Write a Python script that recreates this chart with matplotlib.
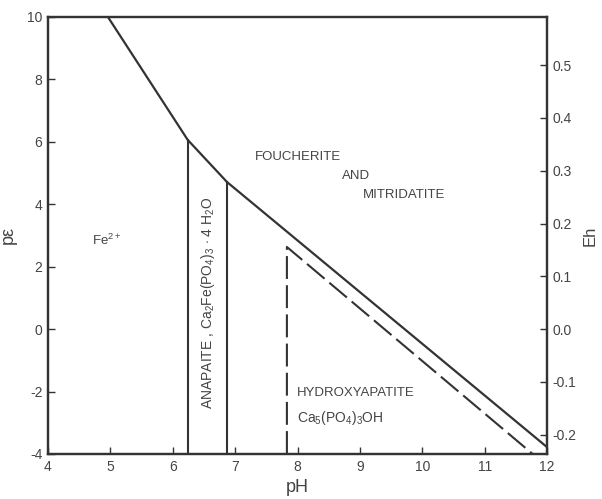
import matplotlib
matplotlib.use("Agg")
import matplotlib.pyplot as plt
from matplotlib.ticker import FixedLocator, FuncFormatter

plt.rcParams['font.family'] = ['Liberation Sans', 'DejaVu Sans']
plt.rcParams['mathtext.fontset'] = 'custom'
plt.rcParams['mathtext.rm'] = 'Liberation Sans'
plt.rcParams['mathtext.it'] = 'Liberation Sans'
plt.rcParams['axes.unicode_minus'] = False

# upper boundary of the Fe2+ / anapaite / foucherite fields
upper_ph = [4.96, 6.24, 6.87, 12.0]
upper_pe = [10.0, 6.06, 4.71, -3.78]

# anapaite field limits
anapaite_ph = [6.24, 6.87]

# hydroxyapatite field (dashed)
hap_ph = [7.83, 7.83, 11.77]
hap_pe = [-4.0, 2.63, -4.0]

pe_ticks = [-4, -2, 0, 2, 4, 6, 8, 10]
ph_ticks = [4, 5, 6, 7, 8, 9, 10, 11, 12]
eh_ticks = [-0.2, -0.1, 0.0, 0.1, 0.2, 0.3, 0.4, 0.5]
EH_PER_PE = 0.05916

ink = '#333333'
txt = '#444444'

fig = plt.figure(figsize=(6.02, 4.99), dpi=100)
ax = fig.add_axes([0.0797, 0.0902, 0.829, 0.876])

ax.plot(upper_ph, upper_pe, color=ink, lw=1.6, solid_capstyle='butt')
for x in anapaite_ph:
    top = upper_pe[upper_ph.index(x)]
    ax.plot([x, x], [-4, top], color=ink, lw=1.5)
ax.plot(hap_ph, hap_pe, color=ink, lw=1.5, dashes=(11, 3))

ax.set_xlim(4, 12)
ax.set_ylim(-4, 10)
ax.set_xticks(ph_ticks)
ax.set_yticks(pe_ticks)
ax.tick_params(direction='in', length=5, width=1, colors=ink,
               labelsize=10, labelcolor=txt, pad=4)
for s in ax.spines.values():
    s.set_linewidth(1.6)
    s.set_color(ink)
ax.set_xlabel('pH', fontsize=13, color=txt, labelpad=4)
ax.set_ylabel('p\u03b5', fontsize=13, color=txt)
ax.yaxis.set_label_coords(-0.062, 0.5)

ax2 = ax.twinx()
ax2.set_ylim(-4 * EH_PER_PE, 10 * EH_PER_PE)
ax2.yaxis.set_major_locator(FixedLocator(eh_ticks))
ax2.yaxis.set_major_formatter(FuncFormatter(lambda v, p: f'{v:.1f}'))
ax2.tick_params(direction='in', length=5, width=1, colors=ink,
                labelsize=10, labelcolor=txt, pad=4)
for s in ax2.spines.values():
    s.set_linewidth(1.6)
    s.set_color(ink)
ax2.set_ylabel('Eh', fontsize=12, color=txt)
ax2.yaxis.set_label_coords(1.071, 0.5)

fs = 9.5
ax.text(7.32, 5.5, 'FOUCHERITE', fontsize=fs, color=txt, va='center')
ax.text(8.71, 4.9, 'AND', fontsize=fs, color=txt, va='center')
ax.text(9.05, 4.3, 'MITRIDATITE', fontsize=fs, color=txt, va='center')
ax.text(4.7, 2.85, 'Fe$^{2+}$', fontsize=fs, color=txt, va='center')
ax.text(6.56, 0.85, 'ANAPAITE , Ca$_2$Fe(PO$_4$)$_3$ $\\cdot$ 4 H$_2$O',
        fontsize=fs + 0.5, color=txt, rotation=90, ha='center', va='center')
ax.text(7.99, -2.05, 'HYDROXYAPATITE', fontsize=fs, color=txt, va='center')
ax.text(7.99, -2.85, 'Ca$_5$(PO$_4$)$_3$OH', fontsize=fs + 0.5, color=txt, va='center')

fig.savefig('out.png', dpi=100)
